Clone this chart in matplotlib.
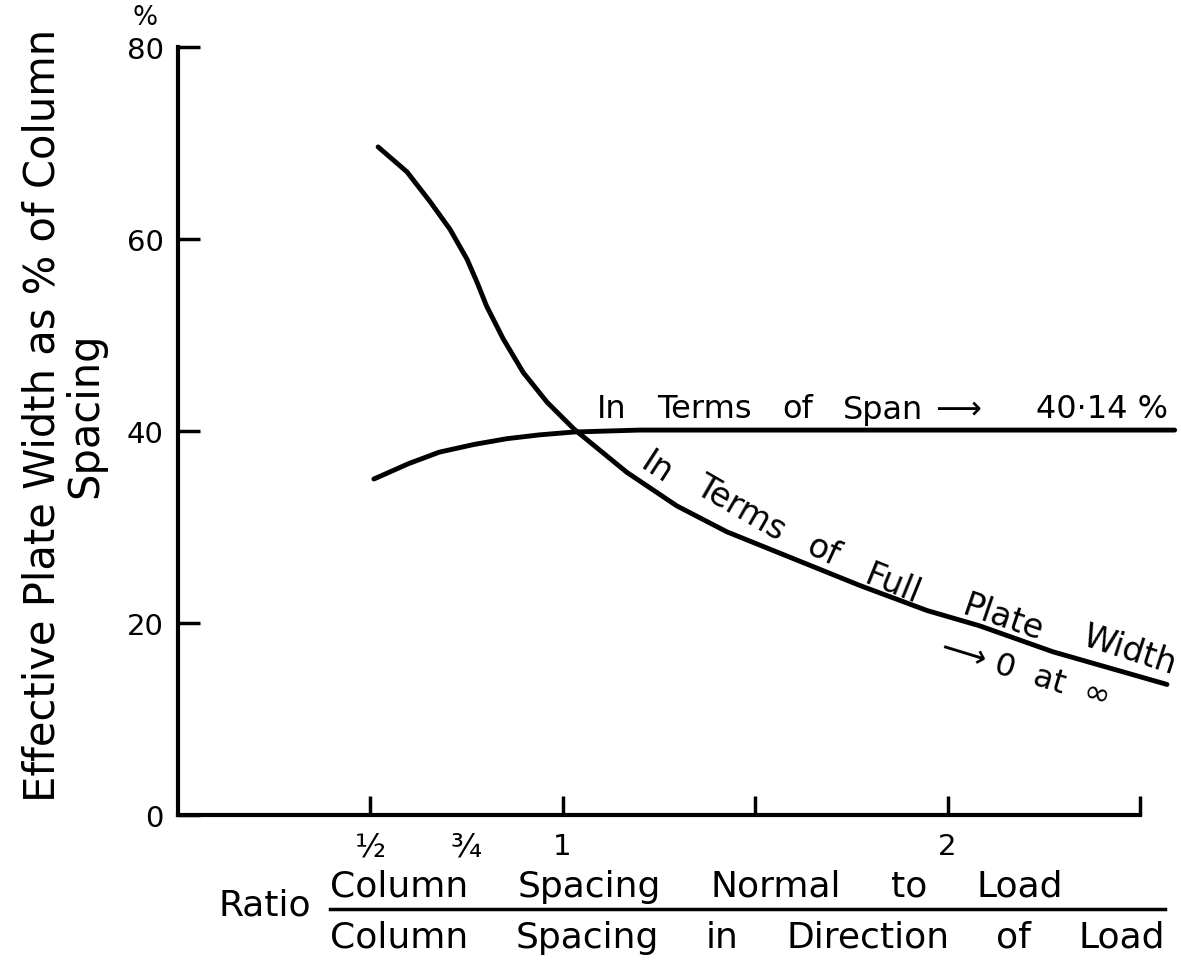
import matplotlib.pyplot as plt
from matplotlib.lines import Line2D

# curve (ratio, % of column spacing)
span_x = [0.51, 0.60, 0.68, 0.77, 0.855, 0.94, 1.03, 1.20, 1.50, 2.00, 2.59]
span_y = [35.0, 36.6, 37.8, 38.6, 39.2, 39.6, 39.9, 40.1, 40.1, 40.1, 40.1]

full_x = [0.521, 0.596, 0.656, 0.708, 0.752, 0.778, 0.803, 0.846, 0.898, 0.96,
          1.03, 1.167, 1.297, 1.427, 1.60, 1.773, 1.947, 2.084, 2.274, 2.57]
full_y = [69.6, 67.0, 63.9, 61.0, 57.9, 55.5, 53.0, 49.6, 46.1, 43.0,
          40.2, 35.7, 32.2, 29.5, 26.7, 23.9, 21.3, 19.7, 17.0, 13.6]

x_ticks = [0.5, 1.0, 1.5, 2.0, 2.5]
x_ticklabels = ['½', '1', '', '2', '']
y_ticks = [0, 20, 40, 60, 80]

W, H = 1181, 979
plt.rcParams['font.family'] = ['DejaVu Sans']

fig = plt.figure(figsize=(W / 100, H / 100), dpi=100)
ax = fig.add_axes([0.1503, 0.1665, 0.8476, 0.804])
renderer = fig.canvas.get_renderer()


def spread(words, x0, x1, y, size):
    # lay words out between pixel x0 and x1 with equal gaps (the original lettering is spaced out)
    arts = [fig.text(0, 1 - y / H, w, fontsize=size, va='center', ha='left') for w in words]
    widths = [a.get_window_extent(renderer).width for a in arts]
    gap = (x1 - x0 - sum(widths)) / max(len(words) - 1, 1)
    x = x0
    for a, wd in zip(arts, widths):
        a.set_x(x / W)
        x += wd + gap


ax.plot(span_x, span_y, color='black', lw=3.5, solid_capstyle='round')
ax.plot(full_x, full_y, color='black', lw=3.5, solid_capstyle='round')

ax.set_xlim(0, 2.6)
ax.set_ylim(0, 82)
for s in ['top', 'right']:
    ax.spines[s].set_visible(False)
ax.spines['left'].set_bounds(0, 80)
ax.spines['bottom'].set_bounds(0, 2.5)
ax.spines['left'].set_linewidth(3)
ax.spines['bottom'].set_linewidth(3)

ax.set_xticks(x_ticks)
ax.set_xticklabels(x_ticklabels, fontsize=21)
ax.get_xticklabels()[0].set_fontsize(23)
ax.set_xticks([0.75], minor=True)
ax.set_xticklabels(['¾'], minor=True, fontsize=23)
ax.tick_params(axis='x', which='major', direction='in', length=14, width=2.5, pad=12)
ax.tick_params(axis='x', which='minor', length=0, pad=12)
ax.set_yticks(y_ticks)
ax.set_yticklabels([str(v) for v in y_ticks], fontsize=21)
ax.tick_params(axis='y', direction='in', length=16, width=2.5, pad=10)

# labels on the curves
spread(['In', 'Terms', 'of', 'Span'], 597, 923, 410, 23)
spread(['⟶', '40·14 %'], 935, 1168, 410, 23)
words = [('In', 1.245, 36.2, -33), ('Terms', 1.461, 32.1, -30), ('of', 1.677, 27.6, -25),
         ('Full', 1.859, 24.1, -22), ('Plate', 2.144, 20.6, -19), ('Width', 2.474, 17.2, -18)]
for w, wx, wy, rot in words:
    ax.text(wx, wy, w, fontsize=24, rotation=rot, ha='center', va='center',
            rotation_mode='anchor')
ax.text(2.201, 14.8, '⟶ 0  at  ∞', fontsize=23, rotation=-17, ha='center', va='center',
        rotation_mode='anchor')

fig.text(64 / W, 1 - 415 / H, 'Effective Plate Width as % of Column\nSpacing',
         rotation=90, ha='center', va='center', multialignment='center', fontsize=30,
         linespacing=1.0)
fig.text(145 / W, 1 - 18 / H, '%', ha='center', va='center', fontsize=19)

fig.text(265 / W, 1 - 906 / H, 'Ratio', ha='center', va='center', fontsize=26)
spread(['Column', 'Spacing', 'Normal', 'to', 'Load'], 330, 1063, 887, 26)
spread(['Column', 'Spacing', 'in', 'Direction', 'of', 'Load'], 330, 1165, 938, 26)
fig.add_artist(Line2D([330 / W, 1165 / W], [1 - 910 / H, 1 - 910 / H],
                      color='black', lw=2.5, transform=fig.transFigure))

fig.savefig('out.png', dpi=100)
